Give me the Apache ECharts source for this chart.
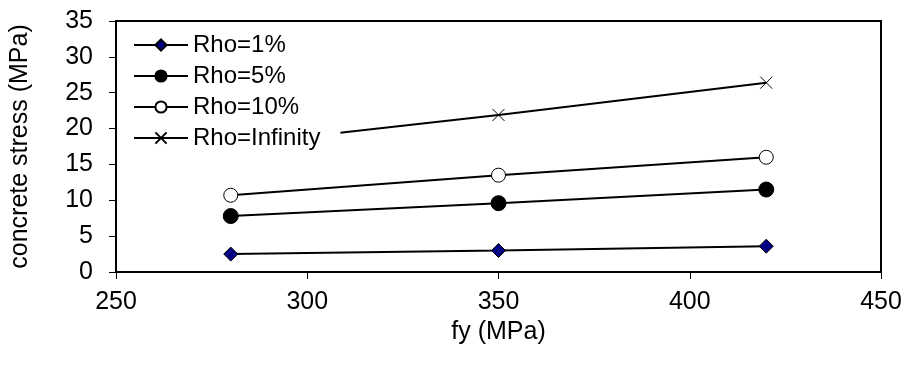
<!DOCTYPE html>
<html>
<head>
<meta charset="utf-8">
<script src="https://cdn.jsdelivr.net/npm/echarts@6/dist/echarts.min.js"></script>
<style>
  html, body { margin: 0; padding: 0; background: #fff; }
  #chart { width: 907px; height: 367px; }
</style>
</head>
<body>
<div id="chart"></div>
<script>
// Steel yield strength (MPa) on the x axis
const fyValues = [280, 350, 420];

// Concrete stress (MPa) for each reinforcement ratio
const rho1 = [2.5, 3.0, 3.6];
const rho5 = [7.8, 9.6, 11.5];
const rho10 = [10.7, 13.5, 16.0];
const rhoInf = [17.7, 21.9, 26.4];

const seriesNames = ['Rho=1%', 'Rho=5%', 'Rho=10%', 'Rho=Infinity'];

const FONT = '"Liberation Sans", Arial, sans-serif';
const crossPath = 'path://M0,0L10,10M10,0L0,10';

function pairs(ys) {
  return fyValues.map((x, i) => [x, ys[i]]);
}

function lineSeries(name, ys, symbol, size, fill) {
  return {
    name: name,
    type: 'line',
    data: pairs(ys),
    symbol: symbol,
    symbolSize: size,
    showSymbol: true,
    z: 2,
    lineStyle: { color: '#000', width: 2 },
    itemStyle: { color: fill, borderColor: '#000', borderWidth: 1 },
    emphasis: { disabled: true },
    animation: false
  };
}

const chart = echarts.init(document.getElementById('chart'), null, { renderer: 'canvas' });

chart.setOption({
  backgroundColor: '#fff',
  animation: false,
  grid: {
    left: 113,
    right: 26,
    top: 21,
    bottom: 95,
    show: true,
    borderColor: '#000',
    borderWidth: 2,
    backgroundColor: 'transparent'
  },
  legend: {
    orient: 'vertical',
    left: 118,
    top: 27,
    z: 10,
    backgroundColor: '#fff',
    padding: [6, 20, 6, 15],
    itemWidth: 54,
    itemHeight: 14,
    itemGap: 7,
    textStyle: { fontFamily: FONT, fontSize: 24, lineHeight: 24, color: '#000' },
    data: seriesNames
  },
  xAxis: {
    type: 'value',
    min: 250,
    max: 450,
    interval: 50,
    name: 'fy (MPa)',
    nameLocation: 'middle',
    nameGap: 46,
    nameTextStyle: { fontFamily: FONT, fontSize: 25, color: '#000' },
    axisLine: { show: true, onZero: false, lineStyle: { color: '#000', width: 2 } },
    axisTick: { show: true, inside: false, length: 7, lineStyle: { color: '#000', width: 1 } },
    axisLabel: { fontFamily: FONT, fontSize: 25, color: '#000', margin: 18 },
    splitLine: { show: false }
  },
  yAxis: {
    type: 'value',
    min: 0,
    max: 35,
    interval: 5,
    name: 'concrete stress (MPa)',
    nameLocation: 'middle',
    nameGap: 83,
    nameRotate: 90,
    nameTextStyle: { fontFamily: FONT, fontSize: 25, color: '#000' },
    axisLine: { show: true, lineStyle: { color: '#000', width: 2 } },
    axisTick: { show: true, inside: false, length: 7, lineStyle: { color: '#000', width: 1 } },
    axisLabel: { fontFamily: FONT, fontSize: 25, color: '#000', margin: 23 },
    splitLine: { show: false }
  },
  series: [
    lineSeries(seriesNames[0], rho1, 'diamond', 14, '#000080'),
    lineSeries(seriesNames[1], rho5, 'circle', 15, '#000'),
    lineSeries(seriesNames[2], rho10, 'circle', 14, '#fff'),
    lineSeries(seriesNames[3], rhoInf, crossPath, 12, '#000')
  ]
});
</script>
</body>
</html>
